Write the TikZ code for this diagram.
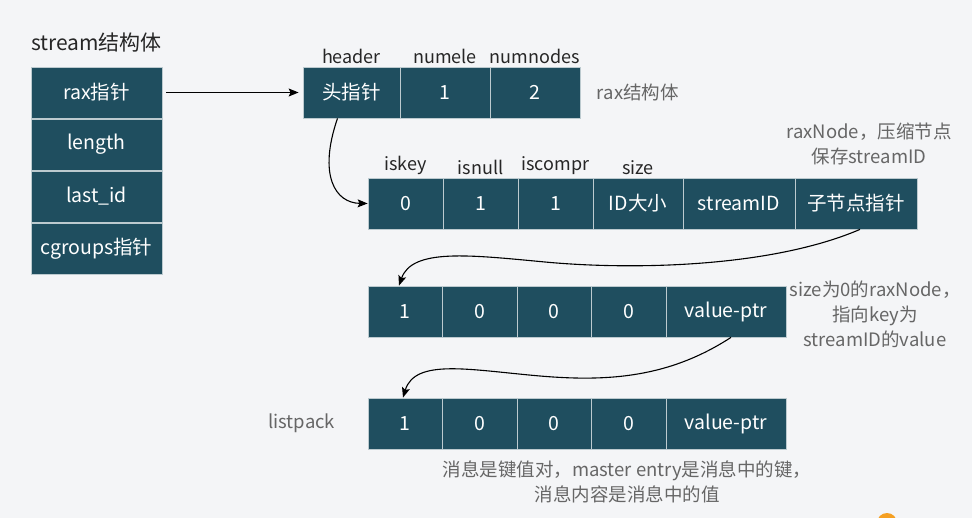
\documentclass[tikz,border=0pt]{standalone}
\usepackage{fontspec}
\setmainfont{Noto Sans CJK SC}
\usetikzlibrary{arrows.meta,positioning}
\definecolor{cellfill}{HTML}{1F4E5F}
\definecolor{bgc}{HTML}{F4F5F7}
\definecolor{notegray}{HTML}{666666}
\definecolor{dotorange}{HTML}{F5A023}
\tikzset{
  >=Stealth,
  cell/.style={rectangle, draw=white!70!cellfill, line width=0.8pt, fill=cellfill, text=white, minimum height=51pt, inner sep=0pt, font=\fontsize{19.5}{23}\selectfont},
  fld/.style={font=\fontsize{18}{21}\selectfont, text=black!85, inner sep=2pt},
  note/.style={font=\fontsize{18.5}{25}\selectfont, text=notegray, align=center},
  link/.style={-{Stealth[length=10pt,width=8pt,inset=2pt]}, line width=1.1pt}
}

\begin{document}
\begin{tikzpicture}[x=1pt, y=-1pt]

\fill[bgc] (0,0) rectangle (972,518);
\useasboundingbox (0,0) rectangle (972,518);

% --- stream struct ---
\node[fld, font=\fontsize{21}{24}\selectfont] (sTitle) at (96.5,43) {stream结构体};
\foreach \y/\t/\n in {92.5/rax指针/sRax, 144.5/length/sLen, 196.5/last\_id/sLast, 248.5/cgroups指针/sCg} {
    \node[cell, minimum width=131pt] (\n) at (96.5,\y) {\t};
}

% --- rax struct ---
\foreach \xa/\xb/\t/\n in {303/400/头指针/rHead, 400/490/1/rNum, 490/580/2/rNodes} {
    \node[cell, minimum width={(\xb-\xa)*1pt}] (\n) at ({(\xa+\xb)/2},92.5) {\t};
}
\node[fld, above=1pt of rHead] (lHeader) {header};
\node[fld, above=1pt of rNum] (lNumele) {numele};
\node[fld, above=1pt of rNodes] (lNumnodes) {numnodes};
\node[note, right=13pt of rNodes] (rNote) {rax结构体};

\draw[link, shorten <=4pt, shorten >=4pt] (sRax) -- (rHead);

% --- raxNode (compressed) ---
\foreach \xa/\xb/\t/\n in {368/443/0/n1, 443/518/1/n2, 518/593/1/n3, 593/683/ID大小/n4, 683/795/streamID/n5, 795/917/子节点指针/n6} {
    \node[cell, minimum width={(\xb-\xa)*1pt}] (\n) at ({(\xa+\xb)/2},203.5) {\t};
}
\node[fld, above=1pt of n1] (lIskey) {iskey};
\node[fld, above=1pt of n2] (lIsnull) {isnull};
\node[fld, above=1pt of n3] (lIscompr) {iscompr};
\node[fld, above=1pt of n4] (lSize) {size};
\node[note] (nNote) at (869,144) {raxNode，压缩节点\\保存streamID};

\draw[link] ([xshift=-14pt]rHead.south) .. controls (318,175) and (335,203) .. (n1.west);

% --- raxNode (size 0) ---
\foreach \xa/\xb/\t/\n in {368/442/1/m1, 442/517/0/m2, 517/591/0/m3, 591/666/0/m4, 666/786/value-ptr/m5} {
    \node[cell, minimum width={(\xb-\xa)*1pt}] (\n) at ({(\xa+\xb)/2},311.5) {\t};
}
\node[note] (mNote) at (875,314) {size为0的raxNode，\\指向key为\\streamID的value};

\draw[link] ([xshift=4pt]n6.south) .. controls (770,268) and (630,270) .. (545,262)
    .. controls (470,255) and (412,248) .. ([xshift=-6pt]m1.north);

% --- listpack ---
\foreach \xa/\xb/\t/\n in {368/442/1/p1, 442/517/0/p2, 517/591/0/p3, 591/666/0/p4, 666/786/value-ptr/p5} {
    \node[cell, minimum width={(\xb-\xa)*1pt}] (\n) at ({(\xa+\xb)/2},423.5) {\t};
}
\node[note, left=29pt of p1] (pLabel) {listpack};
\node[note] (pNote) at (627,482) {消息是键值对，master entry是消息中的键，\\消息内容是消息中的值};

\draw[link] ([xshift=5pt]m5.south) .. controls (670,377) and (610,382) .. (540,376)
    .. controls (470,370) and (415,358) .. ([xshift=-2pt]p1.north);

% cut-off dot at the lower edge
\begin{scope}
  \clip (0,0) rectangle (972,518);
  \fill[dotorange] (887,523) circle (10);
\end{scope}

\end{tikzpicture}
\end{document}
